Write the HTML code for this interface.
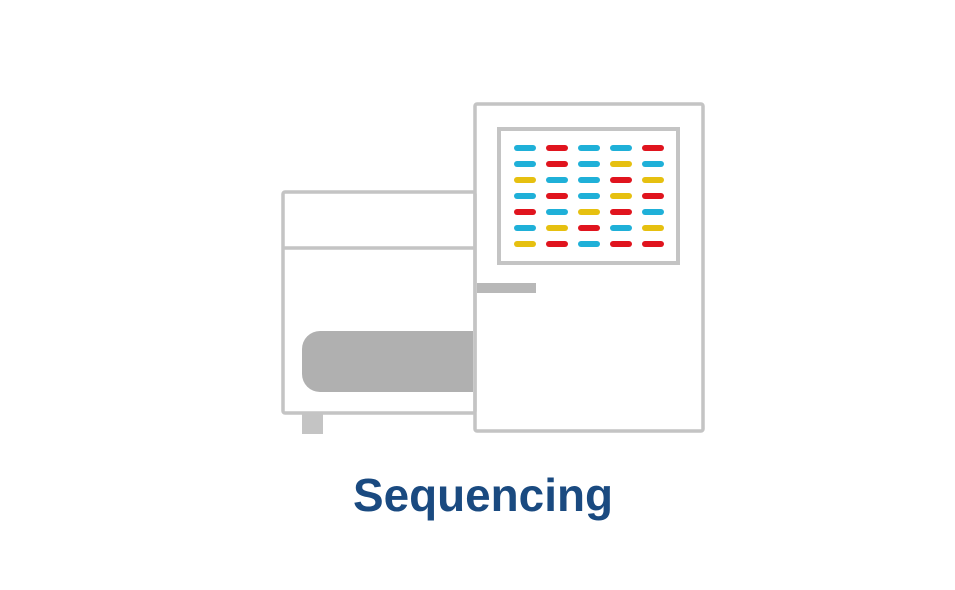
<!DOCTYPE html>
<html><head><meta charset="utf-8"><style>
html,body{margin:0;padding:0;background:#fff;width:955px;height:590px;overflow:hidden}
</style></head><body>
<svg width="955" height="590" viewBox="0 0 955 590" xmlns="http://www.w3.org/2000/svg">
<rect width="955" height="590" fill="#fff"/>
<g fill="none" stroke="#c4c4c4" stroke-width="3.5">
<rect x="283" y="192" width="192" height="221" rx="2"/>
<line x1="283" y1="248" x2="475" y2="248"/>
<rect x="475" y="104" width="228" height="327" rx="2"/>
<rect x="499" y="129" width="179" height="134" stroke-width="4"/>
</g>
<path d="M320 331 H473 V392 H320 A18 18 0 0 1 302 374 V349 A18 18 0 0 1 320 331 Z" fill="#b0b0b0"/>
<rect x="302" y="414" width="21" height="20" fill="#c4c4c4"/>
<rect x="477" y="283" width="59" height="10" fill="#b8b8b8"/>
<g stroke-width="6" stroke-linecap="round">
<g id="rows"></g>
</g>
<g stroke-width="6" stroke-linecap="round">
<!-- row1 -->
<line x1="517" y1="148" x2="533" y2="148" stroke="#1fb0d8"/><line x1="549" y1="148" x2="565" y2="148" stroke="#e0141e"/><line x1="581" y1="148" x2="597" y2="148" stroke="#1fb0d8"/><line x1="613" y1="148" x2="629" y2="148" stroke="#1fb0d8"/><line x1="645" y1="148" x2="661" y2="148" stroke="#e0141e"/>
<line x1="517" y1="164" x2="533" y2="164" stroke="#1fb0d8"/><line x1="549" y1="164" x2="565" y2="164" stroke="#e0141e"/><line x1="581" y1="164" x2="597" y2="164" stroke="#1fb0d8"/><line x1="613" y1="164" x2="629" y2="164" stroke="#e6c010"/><line x1="645" y1="164" x2="661" y2="164" stroke="#1fb0d8"/>
<line x1="517" y1="180" x2="533" y2="180" stroke="#e6c010"/><line x1="549" y1="180" x2="565" y2="180" stroke="#1fb0d8"/><line x1="581" y1="180" x2="597" y2="180" stroke="#1fb0d8"/><line x1="613" y1="180" x2="629" y2="180" stroke="#e0141e"/><line x1="645" y1="180" x2="661" y2="180" stroke="#e6c010"/>
<line x1="517" y1="196" x2="533" y2="196" stroke="#1fb0d8"/><line x1="549" y1="196" x2="565" y2="196" stroke="#e0141e"/><line x1="581" y1="196" x2="597" y2="196" stroke="#1fb0d8"/><line x1="613" y1="196" x2="629" y2="196" stroke="#e6c010"/><line x1="645" y1="196" x2="661" y2="196" stroke="#e0141e"/>
<line x1="517" y1="212" x2="533" y2="212" stroke="#e0141e"/><line x1="549" y1="212" x2="565" y2="212" stroke="#1fb0d8"/><line x1="581" y1="212" x2="597" y2="212" stroke="#e6c010"/><line x1="613" y1="212" x2="629" y2="212" stroke="#e0141e"/><line x1="645" y1="212" x2="661" y2="212" stroke="#1fb0d8"/>
<line x1="517" y1="228" x2="533" y2="228" stroke="#1fb0d8"/><line x1="549" y1="228" x2="565" y2="228" stroke="#e6c010"/><line x1="581" y1="228" x2="597" y2="228" stroke="#e0141e"/><line x1="613" y1="228" x2="629" y2="228" stroke="#1fb0d8"/><line x1="645" y1="228" x2="661" y2="228" stroke="#e6c010"/>
<line x1="517" y1="244" x2="533" y2="244" stroke="#e6c010"/><line x1="549" y1="244" x2="565" y2="244" stroke="#e0141e"/><line x1="581" y1="244" x2="597" y2="244" stroke="#1fb0d8"/><line x1="613" y1="244" x2="629" y2="244" stroke="#e0141e"/><line x1="645" y1="244" x2="661" y2="244" stroke="#e0141e"/>
</g>
<text x="483" y="511" text-anchor="middle" font-family="Liberation Sans, Arial, sans-serif" font-weight="bold" font-size="46" fill="#1a4a80" textLength="260" lengthAdjust="spacingAndGlyphs">Sequencing</text>
</svg>
</body></html>
